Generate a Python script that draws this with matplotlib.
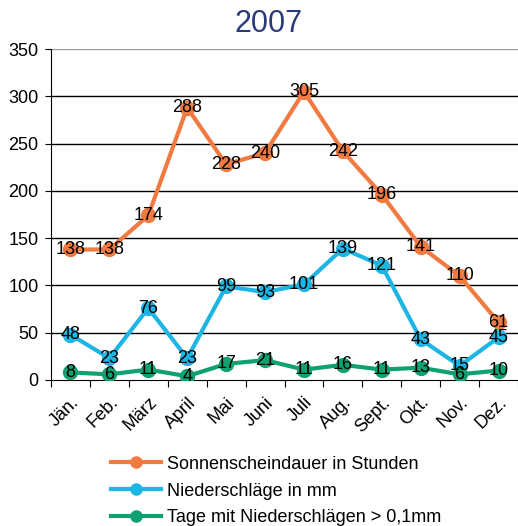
import matplotlib
matplotlib.use("Agg")
import matplotlib.pyplot as plt
import numpy as np

months = ["Jän.", "Feb.", "März", "April", "Mai", "Juni", "Juli", "Aug.", "Sept.", "Okt.", "Nov.", "Dez."]
sonne = [138, 138, 174, 288, 228, 240, 305, 242, 196, 141, 110, 61]
nieder = [48, 23, 76, 23, 99, 93, 101, 139, 121, 43, 15, 45]
tage = [8, 6, 11, 4, 17, 21, 11, 16, 11, 13, 6, 10]
series_names = ["Sonnenscheindauer in Stunden", "Niederschläge in mm", "Tage mit Niederschlägen > 0,1mm"]
colors = ["#F07A40", "#1DB5E3", "#0FA172"]

plt.rcParams['font.family'] = ['Liberation Sans', 'DejaVu Sans']
fig = plt.figure(figsize=(5.18, 5.26), dpi=100)
ax = fig.add_axes([51/518, 1-380/526, (518-51)/518, 331/526])

x = np.arange(len(months))
for vals, name, c in zip([sonne, nieder, tage], series_names, colors):
    ax.plot(x, vals, color=c, lw=3, marker='o', ms=10, label=name, zorder=3)
    for xi, v in zip(x, vals):
        ax.text(xi, v, str(v), ha='center', va='center', fontsize=13, color='black', zorder=4)

ax.set_xlim(-0.5, 11.5)
ax.set_ylim(0, 350)
ax.set_yticks(range(0, 351, 50))
ax.tick_params(axis='y', labelsize=13, length=4, direction='out', pad=5)
for y in range(50, 351, 50):
    ax.axhline(y, color='#999999' if y == 350 else 'black', lw=1, zorder=1)
ax.set_xticks(np.arange(-0.5, 12, 1))
ax.set_xticklabels([])
ax.set_xticks(x, minor=True)
ax.set_xticklabels(months, minor=True, rotation=45, ha='right', rotation_mode='anchor', fontsize=13)
ax.tick_params(axis='x', which='major', length=5, direction='out')
ax.tick_params(axis='x', which='minor', length=0, pad=10)
for s in ['top', 'right']:
    ax.spines[s].set_visible(False)
ax.spines['left'].set_color('black')
ax.spines['bottom'].set_color('black')

fig.text(269/518, 1-24/526, "2007", ha='center', va='center', fontsize=22, color='#2B3A78')

handles, labels = ax.get_legend_handles_labels()
fig.legend(handles, labels, loc='center', bbox_to_anchor=(276/518, 1-491/526), frameon=False,
           fontsize=13, handlelength=2.8, handletextpad=0.3, labelspacing=0.55, markerscale=0.8)

fig.savefig("out.png", dpi=100)
